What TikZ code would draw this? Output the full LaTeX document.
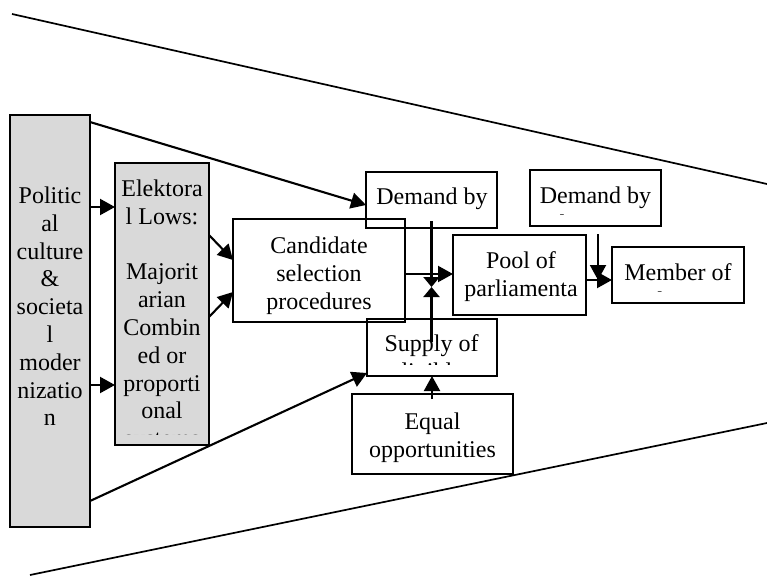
\documentclass[tikz,border=0pt]{standalone}
\usepackage{fontspec}
\setmainfont{Liberation Serif}
\usetikzlibrary{arrows.meta,calc}
\definecolor{cgris}{HTML}{D9D9D9}
\tikzset{
  caja/.style={draw=black,line width=2.5pt,inner sep=0pt,outer sep=0pt},
  cajag/.style={caja,fill=cgris},
  texto/.style={font=\fontsize{24}{27.8}\selectfont,align=center,inner sep=0pt,anchor=north},
  flecha/.style={-{Triangle[length=15pt,width=16pt]},line width=2.1pt},
  flechac/.style={-{Triangle[length=10pt,width=16pt]},line width=2.1pt},
  borde/.style={line width=1.7pt},
}
\begin{document}
\begin{tikzpicture}[x=1pt,y=-1pt]
\useasboundingbox (0,0) rectangle (767,575);

% embudo
\coordinate (embudo-a1) at (12,14);
\coordinate (embudo-a2) at (767,184);
\coordinate (embudo-b1) at (30,575);
\coordinate (embudo-b2) at (767,423);
\draw[borde] (embudo-a1) -- (embudo-a2);
\draw[borde] (embudo-b1) -- (embudo-b2);

% cajas
\node[cajag,minimum width=80pt,minimum height=412pt] (politica) at (50,321) {};
\node[cajag,minimum width=94pt,minimum height=282pt] (electoral) at (162,304) {};
\node[caja,minimum width=172pt,minimum height=103pt] (candidato) at (319,270.5) {};
\node[caja,minimum width=131pt,minimum height=56pt] (demanda) at (431.5,200) {};
\node[caja,minimum width=130pt,minimum height=57pt] (oferta) at (432,347.5) {};
\node[caja,minimum width=161pt,minimum height=80pt] (igualdad) at (432.5,434) {};
\node[caja,minimum width=133pt,minimum height=80pt] (reserva) at (519.5,275) {};
\node[caja,minimum width=131pt,minimum height=56pt] (demandab) at (595.5,198) {};
\node[caja,minimum width=132pt,minimum height=56pt] (miembro) at (678,275) {};

% textos
\node[texto] (politica-t) at (50,186.6) {Politic\\al\\culture\\\&\\societa\\l\\moder\\nizatio\\n};
\begin{scope}
  \clip (electoral.north west) rectangle ($(electoral.south east)+(0,-11)$);
  \node[texto] (electoral-t) at (162,179.6) {Elektora\\l Lows:\\\mbox{}\\Majorit\\arian\\Combin\\ed or\\proporti\\onal\\systems};
\end{scope}
\node[texto] (candidato-t) at (319,236.6) {Candidate\\selection\\procedures};
\node[texto] (demanda-t) at (432,187.6) {Demand by};
\node[texto] (reserva-t) at (521,251.6) {Pool of\\parliamenta};
\begin{scope}
  \clip (demandab.north west) rectangle ($(demandab.south east)+(0,-11.5)$);
  \node[texto] (demandab-t) at (595.5,186.6) {Demand by\\electorate};
\end{scope}
\begin{scope}
  \clip (miembro.north west) rectangle ($(miembro.south east)+(0,-11.5)$);
  \node[texto] (miembro-t) at (678,263.6) {Member of\\parliament};
\end{scope}
\begin{scope}
  \clip (oferta.north west) rectangle ($(oferta.south east)+(0,-12)$);
  \node[texto] (oferta-t) at (431.5,334.6) {Supply of\\eligibles};
\end{scope}
\node[texto] (igualdad-t) at (432.5,412.6) {Equal\\opportunities};

% flechas
\draw[flecha] ($(politica.north east)+(0,92)$) -- ($(electoral.north west)+(0,44)$);
\draw[flecha] ($(politica.north east)+(0,270)$) -- ($(electoral.north west)+(0,222)$);
\draw[flecha] ($(politica.north east)+(0,7)$) -- ($(demanda.west)+(0,5)$);
\draw[flecha] ($(politica.south east)+(0,-26)$) -- ($(oferta.south west)+(0,-3)$);
\draw[flecha] ($(electoral.north east)+(0,72)$) -- ($(candidato.west)+(0,-10.5)$);
\draw[flecha] ($(electoral.east)+(0,13)$) -- ($(candidato.west)+(0,21.5)$);
\draw[flecha] ($(candidato.east)+(0,3.5)$) -- ($(reserva.west)+(0,-1)$);
\coordinate (cruce) at (431.5,287);
\draw[flechac] ($(demanda.south)+(0,-7)$) -- (cruce);
\draw[flechac] ($(oferta.north)+(-0.5,23)$) -- (cruce);
\draw[flecha] ($(igualdad.north)+(-0.5,5)$) -- (oferta.south);
\draw[flecha] ($(reserva.east)+(0,5)$) -- ($(miembro.west)+(0,5)$);
\coordinate (union) at (598,280);
\draw[flecha] ($(demandab.south)+(2.5,8)$) -- (union);

\end{tikzpicture}
\end{document}
